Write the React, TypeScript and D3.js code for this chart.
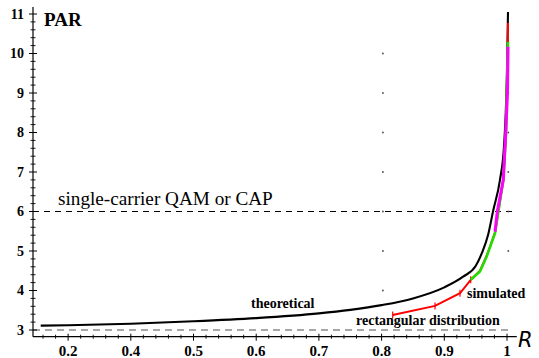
import React from "react";
import * as d3 from "d3";

// ---- data (x in axis units, y = PAR) ----
const theoreticalR = [0.2563, 0.3, 0.4, 0.5, 0.6, 0.7, 0.75, 0.8, 0.85, 0.9, 0.93, 0.95, 0.96, 0.97, 0.9777, 0.9888, 0.995, 0.998, 1.0, 1.0016];
const theoreticalPAR = [3.11, 3.12, 3.16, 3.22, 3.3, 3.42, 3.51, 3.63, 3.8, 4.08, 4.35, 4.62, 4.95, 5.42, 6.0, 6.8, 7.6, 8.5, 9.6, 11.05];

const redR = [0.8177, 0.8852, 0.925, 0.9421, 0.9569, 0.9676, 0.9809, 0.9941, 0.9984, 1.0011, 1.0016];
const redPAR = [3.38, 3.61, 3.93, 4.27, 4.5, 4.88, 5.47, 6.8, 8.0, 10.0, 10.77];

const greenR = [0.9421, 0.9569, 0.9676, 0.9809, 0.9941, 0.9984, 1.0011, 1.0016];
const greenPAR = [4.27, 4.48, 4.86, 5.45, 6.8, 7.99, 10.0, 10.29];

const magentaR = [0.9809, 0.9845, 0.9941, 0.998, 1.0008, 1.0016];
const magentaPAR = [5.49, 6.0, 6.8, 8.0, 9.0, 10.17];

const xTickValues = [0.3, 0.4, 0.5, 0.6, 0.7, 0.8, 0.9, 1.0];
const xTickLabels = ["0.2", "0.4", "0.5", "0.6", "0.7", "0.8", "0.9", "1"];
const yTickValues = [3, 4, 5, 6, 7, 8, 9, 10, 11];
const yTickLabels = ["3", "4", "5", "6", "7", "8", "9", "10", "11"];
const refLevels = [6, 3]; // single-carrier QAM/CAP, rectangular distribution
const gridX = [0.8, 1.0];
const gridDotY = [4, 5, 6, 7, 8, 9, 10];

const W = 539;
const H = 358;

export default function App() {
  const x = d3.scaleLinear().domain([0.244, 1.0]).range([33, 507]);
  const y = d3.scaleLinear().domain([3, 11]).range([330, 14]);
  const xMin = 0.244, xMax = 1.0156;
  const yMin = 2.83, yMax = 11.18;

  const line = d3
    .line<[number, number]>()
    .x((d) => x(d[0]))
    .y((d) => y(d[1]));
  const smooth = d3
    .line<[number, number]>()
    .x((d) => x(d[0]))
    .y((d) => y(d[1]))
    .curve(d3.curveMonotoneX);

  const zip = (a: number[], b: number[]) => a.map((v, i) => [v, b[i]] as [number, number]);
  const theo = zip(theoreticalR, theoreticalPAR);
  const red = zip(redR, redPAR);
  const green = zip(greenR, greenPAR);
  const mag = zip(magentaR, magentaPAR);

  const xMinor = d3.range(0.26, 1.001, 0.02).filter((v) => !xTickValues.some((t) => Math.abs(t - v) < 1e-6));
  const yMinor = d3.range(3.0, 11.01, 0.2).filter((v) => Math.abs(v - Math.round(v)) > 1e-6);

  const serif = "'Liberation Serif', 'Times New Roman', serif";

  return (
    <div style={{ position: "fixed", left: 0, top: 0 }}>
      <svg width={W} height={H} style={{ display: "block", background: "#fff" }}>
        {/* reference dashed lines */}
        <line x1={x(xMin)} x2={x(1.008)} y1={y(refLevels[0])} y2={y(refLevels[0])} stroke="#000" strokeWidth={1.1} strokeDasharray="6,5" />
        <line x1={x(xMin)} x2={x(1.008)} y1={y(refLevels[1])} y2={y(refLevels[1])} stroke="#8a8a8a" strokeWidth={1.3} strokeDasharray="7,5" />

        {/* sparse grid dots */}
        {gridX.map((gx) =>
          gridDotY.map((gy) => (
            <rect key={`${gx}-${gy}`} x={x(gx) + 0.5} y={y(gy) - 0.8} width={1.6} height={1.6} fill="#444" />
          ))
        )}

        {/* axes */}
        <line x1={x(xMin)} x2={x(xMax)} y1={y(yMin)} y2={y(yMin)} stroke="#000" strokeWidth={1.2} />
        <line x1={x(xMin)} x2={x(xMin)} y1={y(yMin)} y2={y(yMax)} stroke="#000" strokeWidth={1.2} />
        {xTickValues.map((t, i) => (
          <g key={`xt${i}`}>
            <line x1={x(t)} x2={x(t)} y1={y(yMin) - 3} y2={y(yMin) + 4} stroke="#000" strokeWidth={1} />
            <text x={x(t)} y={356} textAnchor="middle" fontFamily={serif} fontWeight="bold" fontSize={15}>
              {xTickLabels[i]}
            </text>
          </g>
        ))}
        {xMinor.map((t, i) => (
          <line key={`xm${i}`} x1={x(t)} x2={x(t)} y1={y(yMin) - 2} y2={y(yMin) + 2} stroke="#000" strokeWidth={0.9} />
        ))}
        {yTickValues.map((t, i) => (
          <g key={`yt${i}`}>
            <line x1={x(xMin) - 4} x2={x(xMin) + 4} y1={y(t)} y2={y(t)} stroke="#000" strokeWidth={1} />
            <text x={24} y={y(t)} dy="0.35em" textAnchor="end" fontFamily={serif} fontWeight="bold" fontSize={14}>
              {yTickLabels[i]}
            </text>
          </g>
        ))}
        {yMinor.map((t, i) => (
          <line key={`ym${i}`} x1={x(xMin) - 2.5} x2={x(xMin) + 2.5} y1={y(t)} y2={y(t)} stroke="#000" strokeWidth={0.9} />
        ))}

        {/* curves */}
        <path d={smooth(theo) || ""} fill="none" stroke="#000" strokeWidth={2.1} />
        <path d={line(red) || ""} fill="none" stroke="#ff0000" strokeWidth={2} />
        {red.slice(0, 4).map((d, i) => (
          <line key={`rm${i}`} x1={x(d[0])} x2={x(d[0])} y1={y(d[1]) - 3.5} y2={y(d[1]) + 3.5} stroke="#ff0000" strokeWidth={1.2} />
        ))}
        <path d={line(green) || ""} fill="none" stroke="#22dd00" strokeWidth={2.6} />
        <path d={line(mag) || ""} fill="none" stroke="#ff00ff" strokeWidth={3} />

        {/* labels */}
        <text x={44} y={26} fontFamily={serif} fontWeight="bold" fontSize={19}>PAR</text>
        <text x={58} y={205} fontFamily={serif} fontSize={19.2}>single-carrier QAM or CAP</text>
        <text x={251} y={308} fontFamily={serif} fontWeight="bold" fontSize={14}>theoretical</text>
        <text x={467} y={298} fontFamily={serif} fontWeight="bold" fontSize={14}>simulated</text>
        <text x={356} y={325} fontFamily={serif} fontWeight="bold" fontSize={14}>rectangular distribution</text>
        <text x={518} y={347} fontFamily="'DejaVu Sans', sans-serif" fontStyle="italic" fontSize={21}>R</text>
      </svg>
    </div>
  );
}
